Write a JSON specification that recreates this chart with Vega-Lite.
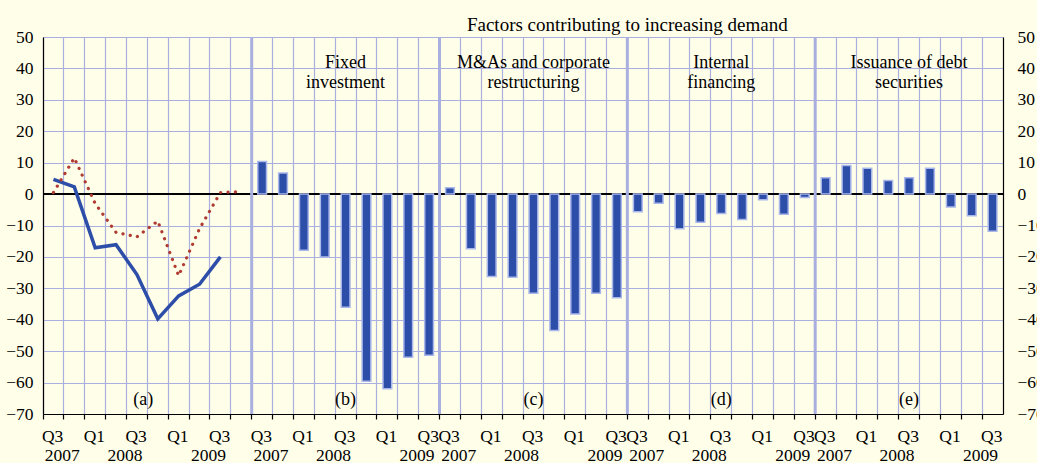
{
  "$schema": "https://vega.github.io/schema/vega-lite/v6.json",
  "width": 960,
  "height": 377,
  "autosize": {"type": "none"},
  "padding": {"left": 43, "top": 37, "right": 34, "bottom": 49},
  "background": "#fffee8",
  "config": {
    "view": {"stroke": null},
    "font": "Liberation Serif",
    "text": {"font": "Liberation Serif"}
  },
  "datasets": {
    "series": [
      {"slot": "a1", "series": "blue", "value": 4.7},
      {"slot": "a2", "series": "blue", "value": 2.3},
      {"slot": "a3", "series": "blue", "value": -17.1},
      {"slot": "a4", "series": "blue", "value": -16.1},
      {"slot": "a5", "series": "blue", "value": -25.6},
      {"slot": "a6", "series": "blue", "value": -39.7},
      {"slot": "a7", "series": "blue", "value": -32.4},
      {"slot": "a8", "series": "blue", "value": -28.7},
      {"slot": "a9", "series": "blue", "value": -20.0},
      {"slot": "a1", "series": "red", "value": 0.5},
      {"slot": "a2", "series": "red", "value": 11.5},
      {"slot": "a3", "series": "red", "value": -3.0},
      {"slot": "a4", "series": "red", "value": -12.2},
      {"slot": "a5", "series": "red", "value": -13.6},
      {"slot": "a6", "series": "red", "value": -8.6},
      {"slot": "a7", "series": "red", "value": -26.0},
      {"slot": "a8", "series": "red", "value": -11.0},
      {"slot": "a9", "series": "red", "value": 0.5},
      {"slot": "a10", "series": "red", "value": 0.8},
      {"slot": "b1", "series": "bar", "value": 10.4},
      {"slot": "b2", "series": "bar", "value": 6.7},
      {"slot": "b3", "series": "bar", "value": -17.9},
      {"slot": "b4", "series": "bar", "value": -20.0},
      {"slot": "b5", "series": "bar", "value": -36.0},
      {"slot": "b6", "series": "bar", "value": -59.6},
      {"slot": "b7", "series": "bar", "value": -62.0},
      {"slot": "b8", "series": "bar", "value": -51.9},
      {"slot": "b9", "series": "bar", "value": -51.3},
      {"slot": "c1", "series": "bar", "value": 2.0},
      {"slot": "c2", "series": "bar", "value": -17.4},
      {"slot": "c3", "series": "bar", "value": -26.2},
      {"slot": "c4", "series": "bar", "value": -26.5},
      {"slot": "c5", "series": "bar", "value": -31.6},
      {"slot": "c6", "series": "bar", "value": -43.4},
      {"slot": "c7", "series": "bar", "value": -38.2},
      {"slot": "c8", "series": "bar", "value": -31.6},
      {"slot": "c9", "series": "bar", "value": -33.0},
      {"slot": "d1", "series": "bar", "value": -5.6},
      {"slot": "d2", "series": "bar", "value": -2.9},
      {"slot": "d3", "series": "bar", "value": -11.0},
      {"slot": "d4", "series": "bar", "value": -9.0},
      {"slot": "d5", "series": "bar", "value": -6.2},
      {"slot": "d6", "series": "bar", "value": -8.1},
      {"slot": "d7", "series": "bar", "value": -1.8},
      {"slot": "d8", "series": "bar", "value": -6.4},
      {"slot": "d9", "series": "bar", "value": -1.1},
      {"slot": "e1", "series": "bar", "value": 5.2},
      {"slot": "e2", "series": "bar", "value": 9.1},
      {"slot": "e3", "series": "bar", "value": 8.2},
      {"slot": "e4", "series": "bar", "value": 4.3},
      {"slot": "e5", "series": "bar", "value": 5.2},
      {"slot": "e6", "series": "bar", "value": 8.2},
      {"slot": "e7", "series": "bar", "value": -4.1},
      {"slot": "e8", "series": "bar", "value": -6.9},
      {"slot": "e9", "series": "bar", "value": -11.8}
    ],
    "panels": [
      {"slot": "a6", "letter": "(a)", "title": ""},
      {"slot": "b5", "letter": "(b)", "title": "Fixed\ninvestment"},
      {"slot": "c5", "letter": "(c)", "title": "M&As and corporate\nrestructuring"},
      {"slot": "d5", "letter": "(d)", "title": "Internal\nfinancing"},
      {"slot": "e5", "letter": "(e)", "title": "Issuance of debt\nsecurities"}
    ],
    "heading": [
      {"slot": "d1", "text": "Factors contributing to increasing demand"}
    ]
  },
  "data": {"name": "series"},
  "resolve": {"axis": {"x": "independent", "y": "independent"}},
  "layer": [
    {
      "mark": {"type": "rule", "color": "#000000", "strokeWidth": 1.2},
      "encoding": {
        "y": {"datum": 0, "type": "quantitative", "scale": {"domain": [-70, 50], "nice": false, "zero": false}, "axis": null}
      }
    },
    {
      "transform": [{"filter": "datum.series == 'bar' && substring(datum.slot, 1) == '1'"}],
      "mark": {"type": "rule", "color": "#a9b0e0", "strokeWidth": 3},
      "encoding": {
        "x": {"field": "slot", "type": "ordinal", "bandPosition": 0, "axis": null}
      }
    },
    {
      "transform": [{"filter": "datum.series == 'bar'"}],
      "mark": {"type": "bar", "color": "#2c4da8", "stroke": "#aab7ea", "strokeWidth": 1.5, "width": {"band": 0.42}},
      "encoding": {
        "x": {
          "field": "slot", "type": "ordinal",
          "scale": {"type": "band", "paddingInner": 0, "paddingOuter": 0, "domain": ["a1","a2","a3","a4","a5","a6","a7","a8","a9","a10","b1","b2","b3","b4","b5","b6","b7","b8","b9","c1","c2","c3","c4","c5","c6","c7","c8","c9","d1","d2","d3","d4","d5","d6","d7","d8","d9","e1","e2","e3","e4","e5","e6","e7","e8","e9"]},
          "axis": {
            "orient": "bottom", "title": null, "bandPosition": 0,
            "labelExpr": "indexof(['1','5','9'], substring(datum.value, 1)) >= 0 ? 'Q3' : (indexof(['3','7'], substring(datum.value, 1)) >= 0 ? 'Q1' : '')",
            "labelAlign": "left", "labelAngle": 0, "labelOverlap": false, "labelBound": false, "labelFlush": false, "labelOffset": -11.5,
            "labelFont": "Liberation Serif", "labelFontSize": 17.5, "labelColor": "#000000", "labelPadding": 8,
            "grid": true, "gridColor": "#a9b0e0", "gridWidth": 1.2,
            "domainColor": "#000000", "domainWidth": 1.2, "tickColor": "#000000", "tickSize": 5, "tickWidth": 1.2
          }
        },
        "y": {
          "field": "value", "type": "quantitative",
          "scale": {"domain": [-70, 50], "nice": false, "zero": false},
          "axis": {
            "orient": "left", "title": null, "values": [-70, -60, -50, -40, -30, -20, -10, 0, 10, 20, 30, 40, 50],
            "labelFont": "Liberation Serif", "labelFontSize": 17.5, "labelColor": "#000000", "labelPadding": 10,
            "grid": true, "gridColor": "#a9b0e0", "gridWidth": 1.2,
            "domainColor": "#000000", "domainWidth": 1.2, "ticks": false
          }
        }
      }
    },
    {
      "transform": [{"filter": "datum.series == 'blue'"}],
      "mark": {"type": "line", "color": "#2c4da8", "strokeWidth": 3.5, "strokeJoin": "miter"},
      "encoding": {
        "x": {"field": "slot", "type": "ordinal", "bandPosition": 0.5, "axis": null},
        "y": {"field": "value", "type": "quantitative", "axis": null}
      }
    },
    {
      "transform": [{"filter": "datum.series == 'red'"}],
      "mark": {"type": "line", "color": "#b03b33", "strokeWidth": 3.2, "strokeCap": "round", "strokeDash": [0.1, 7.3]},
      "encoding": {
        "x": {
          "field": "slot", "type": "ordinal", "bandPosition": 0.5,
          "axis": {
            "orient": "bottom", "title": null, "bandPosition": 0,
            "labelExpr": "substring(datum.value, 1) == '2' ? '2007' : (substring(datum.value, 1) == '5' ? '2008' : (substring(datum.value, 1) == '9' ? '2009' : ''))",
            "labelAlign": "center", "labelAngle": 0, "labelOverlap": false, "labelBound": false, "labelFlush": false, "labelOffset": -12,
            "labelFont": "Liberation Serif", "labelFontSize": 17.5, "labelColor": "#000000", "labelPadding": 32,
            "grid": false, "domain": false, "ticks": false
          }
        },
        "y": {
          "field": "value", "type": "quantitative",
          "axis": {
            "orient": "right", "title": null, "values": [-70, -60, -50, -40, -30, -20, -10, 0, 10, 20, 30, 40, 50],
            "labelFont": "Liberation Serif", "labelFontSize": 17.5, "labelColor": "#000000", "labelPadding": 14,
            "grid": false, "domainColor": "#000000", "domainWidth": 1.2, "ticks": false
          }
        }
      }
    },
    {
      "data": {"name": "panels"},
      "transform": [{"filter": "datum.slot != 'a6'"}],
      "mark": {"type": "text", "fontSize": 18, "color": "#000000", "baseline": "middle", "align": "center"},
      "encoding": {
        "x": {"field": "slot", "type": "ordinal", "bandPosition": 0.5, "axis": null},
        "y": {"datum": -65.5, "type": "quantitative", "axis": null},
        "text": {"field": "letter"}
      }
    },
    {
      "data": {"name": "panels"},
      "transform": [{"filter": "datum.slot == 'a6'"}],
      "mark": {"type": "text", "fontSize": 18, "color": "#000000", "baseline": "middle", "align": "center", "dx": -4},
      "encoding": {
        "x": {"field": "slot", "type": "ordinal", "bandPosition": 0, "axis": null},
        "y": {"datum": -65.5, "type": "quantitative", "axis": null},
        "text": {"field": "letter"}
      }
    },
    {
      "data": {"name": "panels"},
      "transform": [{"filter": "datum.title != ''"}],
      "mark": {"type": "text", "fontSize": 18, "color": "#000000", "baseline": "top", "align": "center", "lineBreak": "\n", "lineHeight": 20},
      "encoding": {
        "x": {"field": "slot", "type": "ordinal", "bandPosition": 0.5, "axis": null},
        "y": {"datum": 44.5, "type": "quantitative", "axis": null},
        "text": {"field": "title"}
      }
    },
    {
      "data": {"name": "heading"},
      "mark": {"type": "text", "fontSize": 19, "color": "#000000", "baseline": "middle", "align": "center"},
      "encoding": {
        "x": {"field": "slot", "type": "ordinal", "bandPosition": 0, "axis": null},
        "y": {"datum": 53.8, "type": "quantitative", "axis": null},
        "text": {"field": "text"}
      }
    }
  ]
}
